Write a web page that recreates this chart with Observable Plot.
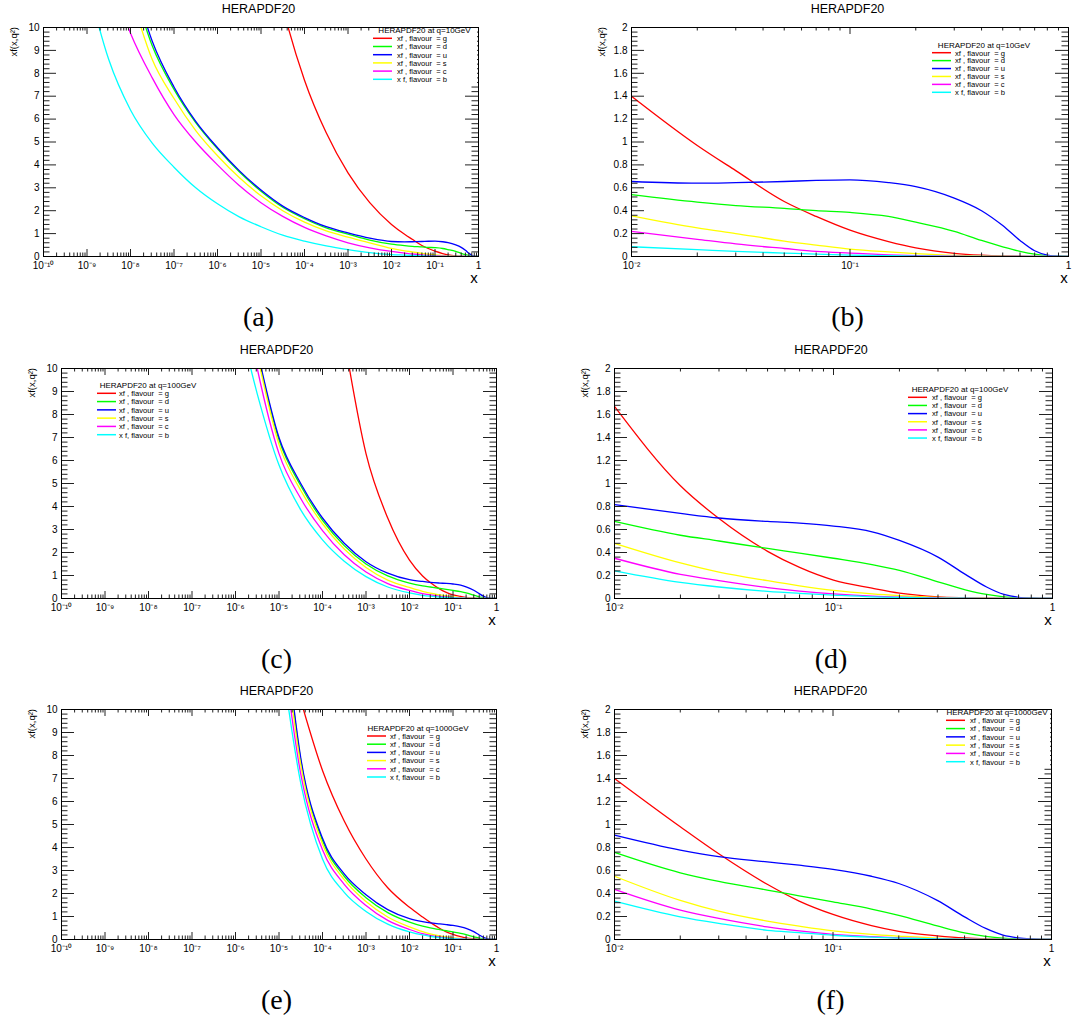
<!DOCTYPE html>
<html><head><meta charset="utf-8">
<script src="https://cdn.jsdelivr.net/npm/d3@7"></script>
<script src="https://cdn.jsdelivr.net/npm/@observablehq/plot@0.6"></script>
<style>
body{margin:0;background:#fff;}
#root{position:relative;width:1076px;height:1023px;overflow:hidden;background:#fff;}
#root > svg{position:absolute;}
</style></head><body><div id="root"></div>
<script>
const _ = null;
// x grid: half decades 1e-9 .. 10^-2.5, then points 0.01 .. 1
const X = [1e-9,3.16e-9,1e-8,3.16e-8,1e-7,3.16e-7,1e-6,3.16e-6,1e-5,3.16e-5,1e-4,3.16e-4,1e-3,3.16e-3,
           0.01,0.02,0.03,0.05,0.07,0.1,0.15,0.2,0.3,0.4,0.5,0.6,0.7,0.8,0.9,1];
const flavours = ["g","d","u","s","c","b"];
const flavourColors = ["#ff0000","#00ff00","#0000ff","#ffff00","#ff00ff","#00ffff"];
const legendLabels = ["xf , flavour  = g","xf , flavour  = d","xf , flavour  = u","xf , flavour  = s","xf , flavour  = c","x f, flavour  = b"];

// q = 10 GeV
const g10 = [_,_,_,_,_,_,_,_,15.3,10.9,7.7,5.4,3.65,2.35, 1.40,0.97,0.75,0.48,0.35,0.23,0.13,0.075,0.028,0.012,0.005,0.002,0.001,0,0,0];
const d10 = [_,_,12.2,9.2,7.3,5.85,4.7,3.7,2.85,2.15,1.65,1.25,0.98,0.72, 0.54,0.475,0.445,0.42,0.40,0.385,0.35,0.30,0.22,0.14,0.085,0.045,0.02,0.008,0.002,0];
const u10 = [_,_,12.5,9.4,7.4,5.9,4.75,3.75,2.9,2.2,1.7,1.3,1.03,0.8, 0.655,0.64,0.645,0.655,0.665,0.67,0.645,0.61,0.51,0.40,0.27,0.14,0.05,0.012,0.002,0];
const s10 = [_,_,11.5,8.6,6.9,5.5,4.4,3.45,2.65,2.0,1.5,1.12,0.85,0.6, 0.355,0.25,0.20,0.135,0.10,0.065,0.04,0.025,0.01,0.005,0.002,0.001,0,0,0,0];
const c10 = [_,12.5,9.75,7.8,6.2,5.0,4.0,3.1,2.35,1.75,1.27,0.9,0.6,0.38, 0.22,0.15,0.11,0.07,0.045,0.03,0.015,0.008,0.003,0.001,0,0,0,0,0,0];
const b10 = [12,8.6,6.4,4.95,3.9,3.0,2.3,1.73,1.3,0.93,0.67,0.46,0.30,0.17, 0.085,0.06,0.045,0.03,0.02,0.012,0.007,0.004,0.001,0,0,0,0,0,0,0];

// q = 100 GeV
const g100 = [_,_,_,_,_,_,_,_,_,_,_,11.3,6.3,3.5, 1.67,0.98,0.695,0.41,0.27,0.16,0.09,0.047,0.015,0.007,0.003,0.001,0,0,0,0];
const d100 = [_,_,_,_,_,_,_,10.7,6.9,4.9,3.4,2.3,1.5,0.98, 0.67,0.55,0.50,0.435,0.395,0.35,0.295,0.245,0.145,0.075,0.035,0.015,0.006,0.002,0.001,0];
const u100 = [_,_,_,_,_,_,_,10.8,7.0,5.0,3.5,2.4,1.6,1.1, 0.816,0.74,0.70,0.67,0.655,0.63,0.58,0.505,0.36,0.21,0.10,0.035,0.01,0.003,0.001,0];
const s100 = [_,_,_,_,_,_,_,10.6,6.7,4.7,3.25,2.15,1.35,0.8, 0.48,0.31,0.23,0.155,0.11,0.07,0.04,0.025,0.01,0.005,0.002,0.001,0,0,0,0];
const c100 = [_,_,_,_,_,_,15,10.0,6.3,4.35,2.95,1.9,1.15,0.65, 0.35,0.21,0.155,0.095,0.065,0.04,0.02,0.012,0.005,0.002,0.001,0,0,0,0,0];
const b100 = [_,_,_,_,_,_,12.8,8.9,5.8,3.85,2.55,1.62,0.95,0.5, 0.24,0.14,0.10,0.062,0.045,0.03,0.015,0.009,0.004,0.002,0.001,0,0,0,0,0];

// q = 1000 GeV
const g1000 = [_,_,_,_,_,_,_,_,_,10.4,7.35,5.15,3.5,2.25, 1.40,0.98,0.745,0.48,0.334,0.218,0.121,0.071,0.032,0.013,0.005,0.002,0.001,0,0,0];
const d1000 = [_,_,_,_,_,_,_,_,15.7,7.8,4.3,2.75,1.82,1.17, 0.757,0.58,0.505,0.43,0.38,0.327,0.265,0.21,0.118,0.058,0.028,0.012,0.005,0.002,0.001,0];
const u1000 = [_,_,_,_,_,_,_,_,16,7.9,4.4,2.85,1.95,1.3, 0.907,0.777,0.72,0.675,0.646,0.61,0.55,0.487,0.34,0.197,0.096,0.038,0.015,0.005,0.001,0];
const s1000 = [_,_,_,_,_,_,_,_,15,7.6,4.15,2.6,1.65,0.98, 0.55,0.34,0.246,0.16,0.116,0.075,0.045,0.03,0.012,0.006,0.003,0.001,0,0,0,0];
const c1000 = [_,_,_,_,_,_,_,_,14,7.2,3.9,2.4,1.48,0.83, 0.435,0.255,0.183,0.11,0.075,0.045,0.025,0.015,0.006,0.003,0.001,0,0,0,0,0];
const b1000 = [_,_,_,_,_,_,_,_,13,6.8,3.5,2.05,1.22,0.67, 0.333,0.197,0.14,0.08,0.06,0.037,0.02,0.012,0.005,0.002,0.001,0,0,0,0,0];

// tick labels
const xDecadesWide = [-10,-9,-8,-7,-6,-5,-4,-3,-2,-1,0];
const xDecadesNarrow = [-2,-1,0];
const yLabels10 = [0,1,2,3,4,5,6,7,8,9,10];
const yLabels2 = [0,0.2,0.4,0.6,0.8,1,1.2,1.4,1.6,1.8,2];
const titleText = "HERAPDF20";
const yTitle = "xf(x,q²)";
const xTitle = "x";
const captions = ["(a)","(b)","(c)","(d)","(e)","(f)"];
const qLabels = ["10","10","100","100","1000","1000"];

const seriesByQ = {
  "10": [g10,d10,u10,s10,c10,b10],
  "100": [g100,d100,u100,s100,c100,b100],
  "1000": [g1000,d1000,u1000,s1000,c1000,b1000]
};

const panels = [
  {q:"10",  wide:true,  left:0,   top:0,   w:500, h:290, ml:43, mr:22, mt:27, mb:34, lg:{hx:424.5,hy:30, lx:373,tx:397,ey:38.3,step:8.2, x1:477}},
  {q:"10",  wide:false, left:540, top:0,   w:536, h:290, ml:91, mr:8,  mt:27, mb:34, lg:{hx:984,hy:45, lx:932,tx:955,ey:52.7,step:7.92, x1:1034}},
  {q:"100", wide:true,  left:0,   top:340, w:520, h:290, ml:61, mr:24, mt:28, mb:32, lg:{hx:148,hy:385, lx:97,tx:119,ey:393.3,step:8.28, x1:200}},
  {q:"100", wide:false, left:540, top:340, w:536, h:290, ml:74, mr:24, mt:28, mb:32, lg:{hx:960,hy:389, lx:908,tx:932,ey:397.3,step:8.15, x1:1012}},
  {q:"1000",wide:true,  left:0,   top:680, w:520, h:290, ml:61, mr:24, mt:29, mb:31, lg:{hx:418,hy:728, lx:367,tx:390,ey:736,step:8.2, x1:472}},
  {q:"1000",wide:false, left:540, top:680, w:536, h:290, ml:74, mr:25, mt:29, mb:31, lg:{hx:997,hy:712, lx:946,tx:970,ey:720.3,step:8.28, x1:1050}}
];

const supMap = {"-":"⁻","0":"⁰","1":"¹","2":"²","3":"³","4":"⁴","5":"⁵","6":"⁶","7":"⁷","8":"⁸","9":"⁹"};
const fmtPow = v => { const e = Math.round(Math.log10(v)); return e === 0 ? "1" : "10" + String(e).split("").map(c => supMap[c]).join(""); };
const fmtY = v => v === 0 ? "0" : String(+v.toFixed(1));

const root = document.getElementById("root");
const FONT = "'Liberation Sans', Arial, Helvetica, sans-serif";

panels.forEach((p, pi) => {
  const fw = p.w - p.ml - p.mr, fh = p.h - p.mt - p.mb;
  const decs = p.wide ? xDecadesWide : xDecadesNarrow;
  const xmin = Math.pow(10, decs[0]);
  const majorX = decs.map(e => Math.pow(10, e));
  const minorX = [];
  decs.slice(0, -1).forEach(e => { for (let k = 2; k <= 9; k++) minorX.push(k * Math.pow(10, e)); });
  const yLab = p.wide ? yLabels10 : yLabels2;
  const ymax = yLab[yLab.length - 1];
  const ystep = yLab[1] - yLab[0];
  const minorY = [];
  for (let i = 0; i < yLab.length - 1; i++) for (let k = 1; k < 5; k++) minorY.push(yLab[i] + k * ystep / 5);
  const series = seriesByQ[p.q];
  const rows = [];
  flavours.forEach((f, i) => series[i].forEach((v, j) => {
    if (v != null && X[j] >= xmin * 0.999) rows.push({x: X[j], y: v, f});
  }));
  const tickStyle = {stroke: "#222", strokeWidth: 1};
  const chart = Plot.plot({
    width: p.w, height: p.h,
    marginLeft: p.ml, marginRight: p.mr, marginTop: p.mt, marginBottom: p.mb,
    style: {fontFamily: FONT, fontSize: "10px", background: "transparent", overflow: "visible", color: "#000"},
    x: {type: "log", domain: [xmin, 1]},
    y: {domain: [0, ymax]},
    color: {domain: flavours, range: flavourColors},
    marks: [
      Plot.line(rows, {x: "x", y: "y", z: "f", stroke: "f", curve: "monotone-x", strokeWidth: 1.3, clip: true}),
      Plot.tickX(majorX, {x: d => d, insetTop: fh - 7, ...tickStyle}),
      Plot.tickX(majorX, {x: d => d, insetBottom: fh - 7, ...tickStyle}),
      Plot.tickX(minorX, {x: d => d, insetTop: fh - 3.5, ...tickStyle}),
      Plot.tickX(minorX, {x: d => d, insetBottom: fh - 3.5, ...tickStyle}),
      Plot.tickY(yLab, {y: d => d, insetRight: fw - 13, ...tickStyle}),
      Plot.tickY(yLab, {y: d => d, insetLeft: fw - 13, ...tickStyle}),
      Plot.tickY(minorY, {y: d => d, insetRight: fw - 6.5, ...tickStyle}),
      Plot.tickY(minorY, {y: d => d, insetLeft: fw - 6.5, ...tickStyle}),
      Plot.frame({stroke: "#000", strokeWidth: 1}),
      Plot.axisX({ticks: majorX, tickSize: 0, tickPadding: 5, tickFormat: fmtPow, label: null}),
      Plot.axisY({ticks: yLab, tickSize: 0, tickPadding: 4, tickFormat: fmtY, label: null})
    ]
  });
  chart.style.position = "absolute";
  chart.style.left = p.left + "px";
  chart.style.top = p.top + "px";
  root.appendChild(chart);
  p.fx0 = p.left + p.ml; p.fx1 = p.left + p.w - p.mr;
  p.fy0 = p.top + p.mt; p.fy1 = p.top + p.h - p.mb;
});

// overlay: titles, axis titles, legends, captions
const ov = d3.create("svg").attr("width", 1076).attr("height", 1023)
  .style("position", "absolute").style("left", "0px").style("top", "0px")
  .style("font-family", FONT);
panels.forEach((p, pi) => {
  const cx = (p.fx0 + p.fx1) / 2 - 2;
  ov.append("text").attr("x", cx).attr("y", p.fy0 - 14.5).attr("text-anchor", "middle")
    .attr("font-size", 12.5).text(titleText);
  ov.append("text").attr("x", p.fx1 - 4).attr("y", p.fy1 + 27).attr("text-anchor", "middle")
    .attr("font-size", 15).text(xTitle);
  ov.append("text").attr("transform", `translate(${p.fx0 - 29},${p.fy0}) rotate(-90)`)
    .attr("text-anchor", "end").attr("dy", "0.35em").attr("font-size", 9.5).text(yTitle);
  ov.append("text").attr("x", cx).attr("y", p.fy1 + 70).attr("text-anchor", "middle")
    .attr("font-family", "'Liberation Serif', 'DejaVu Serif', serif").attr("font-size", 28).text(captions[pi]);
  const lg = p.lg;
  // legend background (white fill, no border) covering the frame ticks beneath
  const y0 = Math.max(lg.hy - 5, p.fy0 + 1);
  ov.append("rect").attr("x", lg.lx - 3).attr("y", y0)
    .attr("width", Math.min(lg.x1, p.fx1 - 1) - (lg.lx - 3))
    .attr("height", lg.ey + 5 * lg.step + 5 - y0).attr("fill", "#fff");
  ov.append("text").attr("x", lg.hx).attr("y", lg.hy + 3).attr("text-anchor", "middle")
    .attr("font-size", 8).text(`HERAPDF20 at q=${qLabels[pi]}GeV`);
  flavours.forEach((f, i) => {
    const y = lg.ey + i * lg.step;
    ov.append("line").attr("x1", lg.lx).attr("x2", lg.lx + 19).attr("y1", y).attr("y2", y)
      .attr("stroke", flavourColors[i]).attr("stroke-width", 1.5);
    ov.append("text").attr("x", lg.tx).attr("y", y + 2.8).attr("font-size", 7.6)
      .attr("xml:space", "preserve").style("white-space", "pre").text(legendLabels[i]);
  });
});
root.appendChild(ov.node());
</script>
</body></html>
